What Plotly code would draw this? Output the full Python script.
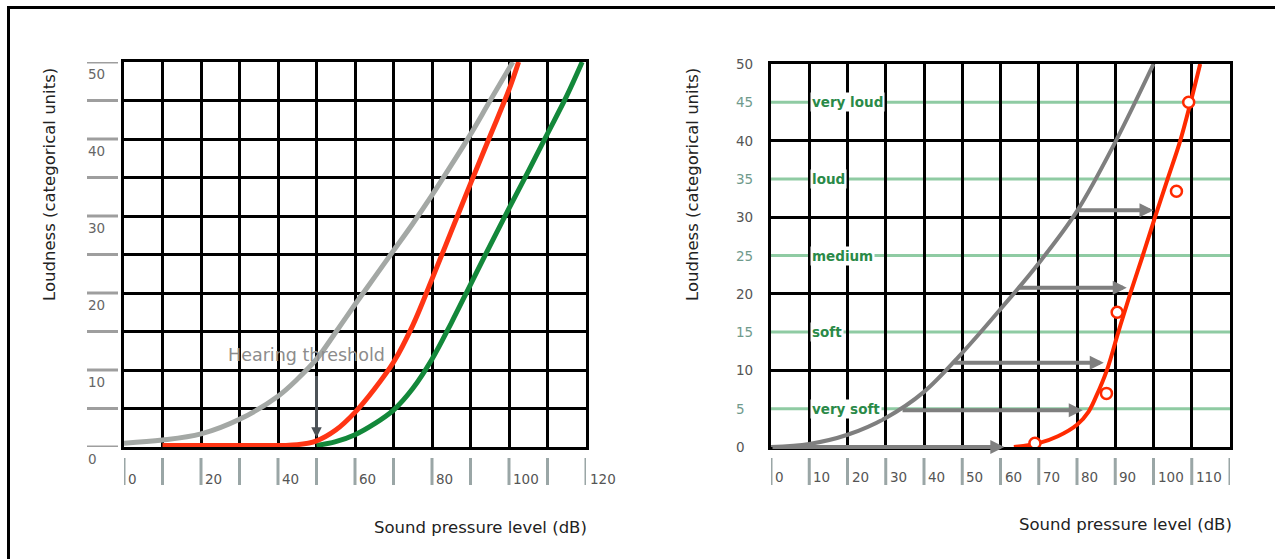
import plotly.graph_objects as go

W, H = 1275, 559

# ---------------- data ----------------
# Left panel: loudness growth curves
left_gray_x = [0, 10, 20, 30, 40, 45, 50, 55, 60, 65, 70, 75, 80, 85, 90, 95, 101]
left_gray_y = [0.5, 0.9, 1.7, 3.6, 6.6, 8.8, 11.4, 14.9, 18.5, 22.0, 25.5, 29.0, 32.7, 36.6, 40.6, 44.9, 50]

left_red_x = [10, 30, 45, 50, 55, 60, 65, 70, 75, 80, 85, 90, 95, 100, 102.5]
left_red_y = [0.2, 0.2, 0.3, 0.8, 2.2, 4.5, 7.5, 11.0, 15.8, 21.8, 28.0, 34.2, 40.3, 46.4, 50]

left_green_x = [50, 55, 60, 65, 70, 75, 80, 85, 90, 95, 100, 105, 110, 115, 119]
left_green_y = [0.2, 0.7, 1.6, 3.0, 4.8, 7.6, 11.4, 16.1, 21.1, 26.1, 31.0, 35.8, 40.7, 45.6, 50]

threshold_x = 50
threshold_y_from = 9.4
threshold_y_to = 1.2
threshold_label = "Hearing threshold"

# Right panel
right_gray_x = [0, 10, 20, 30, 40, 50, 60, 70, 80, 90, 100]
right_gray_y = [0, 0.4, 1.6, 3.8, 7.2, 12.3, 18.0, 24.0, 30.8, 39.8, 50]

right_red_x = [63.5, 70, 75, 80, 83, 85, 87.8, 90.8, 93.9, 97.2, 100.4, 103.7, 107, 109.7, 112.2]
right_red_y = [0, 0.5, 1.4, 2.9, 4.6, 6.6, 10, 15, 20, 25, 30, 35, 40, 45, 50]

right_pts_x = [69, 87.7, 90.5, 106, 109.2]
right_pts_y = [0.5, 7, 17.6, 33.4, 45]

shift_y = [30.9, 20.8, 11, 4.8, 0]
shift_from = [79.8, 64.2, 47.5, 34, 0]
shift_to = [100, 93, 87, 81.5, 61]

categories = ["very loud", "loud", "medium", "soft", "very soft"]
category_y = [45, 35, 25, 15, 5]

left_xticks = list(range(0, 130, 10))
left_xlabels = ["0", "20", "40", "60", "80", "100", "120"]
left_xlabel_vals = [0, 20, 40, 60, 80, 100, 120]
left_yticks = list(range(0, 55, 5))
left_ylabel_vals = [0, 10, 20, 30, 40, 50]

right_xticks = list(range(0, 130, 10))
right_xlabel_vals = list(range(0, 120, 10))
right_yticks = list(range(0, 55, 5))

y_title = "Loudness (categorical units)"
x_title = "Sound pressure level (dB)"

# ---------------- layout helpers ----------------
def px(x):
    return x / W

def py(y):
    return (H - y) / H

FONT = "DejaVu Sans"

fig = go.Figure()

# Left curves
fig.add_trace(go.Scatter(x=left_gray_x, y=left_gray_y, mode="lines",
                         line=dict(color="#a4a8a5", width=5, shape="spline", smoothing=1.0),
                         xaxis="x", yaxis="y", hoverinfo="skip"))
fig.add_trace(go.Scatter(x=left_green_x, y=left_green_y, mode="lines",
                         line=dict(color="#13883a", width=5, shape="spline", smoothing=1.0),
                         xaxis="x", yaxis="y", hoverinfo="skip"))
fig.add_trace(go.Scatter(x=left_red_x, y=left_red_y, mode="lines",
                         line=dict(color="#ff3514", width=5, shape="spline", smoothing=1.0),
                         xaxis="x", yaxis="y", hoverinfo="skip"))

# Right curves
fig.add_trace(go.Scatter(x=right_gray_x, y=right_gray_y, mode="lines",
                         line=dict(color="#7f7f7f", width=4, shape="spline", smoothing=1.0),
                         xaxis="x2", yaxis="y2", hoverinfo="skip"))
fig.add_trace(go.Scatter(x=right_red_x, y=right_red_y, mode="lines",
                         line=dict(color="#ff2a00", width=4, shape="spline", smoothing=1.0),
                         xaxis="x2", yaxis="y2", hoverinfo="skip"))
fig.add_trace(go.Scatter(x=right_pts_x, y=right_pts_y, mode="markers",
                         marker=dict(symbol="circle", size=11, color="white",
                                     line=dict(color="#ff2a00", width=2.5)),
                         xaxis="x2", yaxis="y2", hoverinfo="skip"))

shapes = []
annotations = []

# Frame
shapes.append(dict(type="line", xref="paper", yref="paper", x0=px(8.5), x1=px(8.5),
                   y0=py(6), y1=py(560), line=dict(color="black", width=3)))
shapes.append(dict(type="line", xref="paper", yref="paper", x0=px(7), x1=px(1276),
                   y0=py(7.5), y1=py(7.5), line=dict(color="black", width=3)))

# Left x tick bars + labels
for v in left_xticks:
    shapes.append(dict(type="line", xref="x", yref="paper", x0=v, x1=v,
                       y0=py(485), y1=py(458), line=dict(color="#9aa6a6", width=3)))
for v, t in zip(left_xlabel_vals, left_xlabels):
    annotations.append(dict(x=v, y=py(479), xref="x", yref="paper", text=t, showarrow=False,
                            xanchor="left", yanchor="middle", xshift=2,
                            font=dict(family=FONT, size=13.5, color="#555")))
# Left y tick bars + labels
for v in left_yticks:
    shapes.append(dict(type="line", xref="paper", yref="y", x0=px(87), x1=px(118),
                       y0=v, y1=v, line=dict(color="#9e9e9e", width=3)))
for v in left_ylabel_vals:
    annotations.append(dict(x=px(86), y=v, xref="paper", yref="y", text=str(v), showarrow=False,
                            xanchor="left", yanchor="middle", yshift=-12,
                            font=dict(family=FONT, size=13.5, color="#666")))

# Right x tick bars + labels
for v in right_xticks:
    shapes.append(dict(type="line", xref="x2", yref="paper", x0=v, x1=v,
                       y0=py(485), y1=py(458), line=dict(color="#9aa6a6", width=3)))
for v in right_xlabel_vals:
    annotations.append(dict(x=v, y=py(477), xref="x2", yref="paper", text=str(v), showarrow=False,
                            xanchor="left", yanchor="middle", xshift=2,
                            font=dict(family=FONT, size=13.5, color="#555")))
# Right y labels
for v in right_yticks:
    col = "#555" if v % 10 == 0 else "#6f9a8c"
    annotations.append(dict(x=px(734), y=v, xref="paper", yref="y2", text=str(v), showarrow=False,
                            xanchor="left", yanchor="middle",
                            font=dict(family=FONT, size=13.5, color=col)))

# Green category lines
for v in category_y:
    shapes.append(dict(type="line", xref="x2 domain", yref="y2", x0=0, x1=1, y0=v, y1=v,
                       layer="below", line=dict(color="#8fcba3", width=3)))
for t, v in zip(categories, category_y):
    annotations.append(dict(x=10, y=v, xref="x2", yref="y2", text=t, showarrow=False,
                            xanchor="left", yanchor="middle", xshift=1,
                            bgcolor="white", borderpad=1,
                            font=dict(family=FONT, size=13.5, color="#2a8a48", weight="bold")))

# Shift arrows on right
for yy, x0, x1 in zip(shift_y, shift_from, shift_to):
    annotations.append(dict(x=x1, y=yy, ax=x0, ay=yy, xref="x2", yref="y2", axref="x2", ayref="y2",
                            text="", showarrow=True, arrowhead=2, arrowsize=0.7, arrowwidth=4,
                            arrowcolor="#7f7f7f"))

# Hearing threshold
annotations.append(dict(x=threshold_x, y=threshold_y_to, ax=threshold_x, ay=threshold_y_from,
                        xref="x", yref="y", axref="x", ayref="y", text="", showarrow=True,
                        arrowhead=2, arrowsize=0.7, arrowwidth=3, arrowcolor="#4c5257"))
annotations.append(dict(x=47.3, y=11.9, xref="x", yref="y", text=threshold_label, showarrow=False,
                        xanchor="center", yanchor="middle",
                        font=dict(family=FONT, size=17.5, color="#8c8c8c")))

# Titles
TITLE_SIZE = 16.5
annotations.append(dict(x=px(50), y=py(185), xref="paper", yref="paper", text=y_title,
                        showarrow=False, textangle=-90, xanchor="center", yanchor="middle",
                        font=dict(family=FONT, size=TITLE_SIZE, color="#222")))
annotations.append(dict(x=px(693), y=py(185), xref="paper", yref="paper", text=y_title,
                        showarrow=False, textangle=-90, xanchor="center", yanchor="middle",
                        font=dict(family=FONT, size=TITLE_SIZE, color="#222")))
annotations.append(dict(x=px(589), y=py(527), xref="paper", yref="paper", text=x_title,
                        showarrow=False, xanchor="right", yanchor="middle",
                        font=dict(family=FONT, size=TITLE_SIZE, color="#222")))
annotations.append(dict(x=px(1234), y=py(524), xref="paper", yref="paper", text=x_title,
                        showarrow=False, xanchor="right", yanchor="middle",
                        font=dict(family=FONT, size=TITLE_SIZE, color="#222")))

axis_common = dict(showgrid=True, gridcolor="black", gridwidth=3, zeroline=False,
                   showticklabels=False, ticks="", showline=True, linecolor="black",
                   linewidth=3, mirror=True, fixedrange=True)

fig.update_layout(
    width=W, height=H,
    margin=dict(l=0, r=0, t=0, b=0),
    paper_bgcolor="white", plot_bgcolor="white",
    showlegend=False,
    xaxis=dict(domain=[px(124), px(586)], range=[0, 120], dtick=10, tick0=0, anchor="y", **axis_common),
    yaxis=dict(domain=[py(447), py(62)], range=[0, 50], dtick=5, tick0=0, anchor="x", **axis_common),
    xaxis2=dict(domain=[px(771), px(1230)], range=[0, 120], dtick=10, tick0=0, anchor="y2", **axis_common),
    yaxis2=dict(domain=[py(447), py(64)], range=[0, 50], dtick=10, tick0=0, anchor="x2", **axis_common),
    shapes=shapes,
    annotations=annotations,
)

fig.write_html("out.html", config={"displayModeBar": False},
               post_script="document.body.style.margin='0px';document.body.style.overflow='hidden';")
